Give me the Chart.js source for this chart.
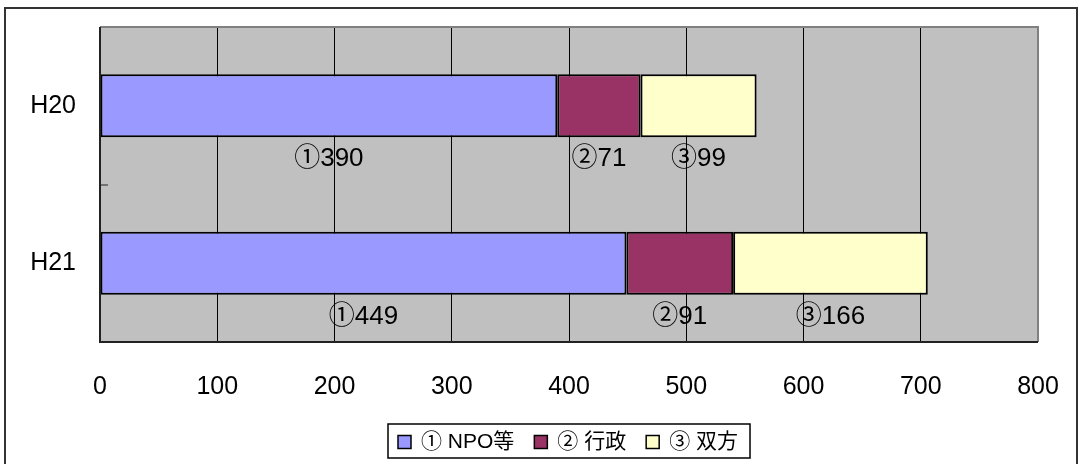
<!DOCTYPE html>
<html>
<head>
<meta charset="utf-8">
<script src="https://cdn.jsdelivr.net/npm/chart.js@4.4.0/dist/chart.umd.min.js"></script>
<style>
  html, body { margin: 0; padding: 0; background: #fff; }
  #wrap { width: 1078px; height: 464px; }
</style>
</head>
<body>
<div id="wrap"><canvas id="myChart"></canvas></div>
<script>
// data
const years = ['H20', 'H21']
const seriesNames = ['① NPO等', '② 行政', '③ 双方']
const labelMarks = ['①', '②', '③']
const npo = [390, 449]
const gyosei = [71, 91]
const soho = [99, 166]
const xTicks = [0, 100, 200, 300, 400, 500, 600, 700, 800]

const colors = ['#9999FF', '#993366', '#FFFFCC']
const fontFam = '"Liberation Sans", "Noto Sans CJK JP", sans-serif'

const excelLook = {
    id: 'excelLook',
    beforeDraw(chart) {
        const { ctx, chartArea: a } = chart
        ctx.save()
        ctx.fillStyle = '#C0C0C0'
        ctx.fillRect(a.left, a.top, a.right - a.left, a.bottom - a.top)
        ctx.restore()
    },
    afterDatasetsDraw(chart) {
        const { ctx, chartArea: a } = chart
        ctx.save()
        // value labels under each segment
        ctx.font = '26px ' + fontFam
        ctx.fillStyle = '#000'
        ctx.textAlign = 'center'
        ctx.textBaseline = 'middle'
        chart.data.datasets.forEach((ds, di) => {
            const meta = chart.getDatasetMeta(di)
            meta.data.forEach((bar, i) => {
                const p = bar.getProps(['x', 'y', 'base', 'height'], true)
                const cx = (p.x + p.base) / 2
                const cy = p.y + p.height / 2 + 22
                ctx.fillText(labelMarks[di] + ds.data[i], cx, cy)
            })
        })

        // plot border (top / right grey)
        ctx.strokeStyle = '#808080'
        ctx.lineWidth = 2
        ctx.beginPath()
        ctx.moveTo(a.left, a.top)
        ctx.lineTo(a.right, a.top)
        ctx.lineTo(a.right, a.bottom)
        ctx.stroke()

        // left and bottom axis lines
        ctx.strokeStyle = '#222'
        ctx.lineWidth = 2
        ctx.beginPath()
        ctx.moveTo(a.left, a.top)
        ctx.lineTo(a.left, a.bottom)
        ctx.lineTo(a.right, a.bottom)
        ctx.stroke()

        // tick between the categories
        const ys = chart.scales.y
        const mid = (ys.getPixelForValue(0) + ys.getPixelForValue(1)) / 2
        ctx.lineWidth = 1
        ctx.beginPath()
        ctx.moveTo(a.left, mid + 0.5)
        ctx.lineTo(a.left + 8, mid + 0.5)
        ctx.stroke()
        ctx.restore()
    },
    afterDraw(chart) {
        const { ctx, chartArea: a } = chart
        ctx.save()
        // outer frame
        ctx.strokeStyle = '#333'
        ctx.lineWidth = 2
        ctx.strokeRect(5, 8, 1072, 520)

        // legend with a box
        ctx.font = '21px ' + fontFam
        ctx.textBaseline = 'middle'
        ctx.textAlign = 'left'
        const sq = 13, gapSq = 10, gapItem = 20
        const widths = seriesNames.map(n => ctx.measureText(n).width)
        let total = 0
        widths.forEach((w, i) => { total += sq + gapSq + w + (i < widths.length - 1 ? gapItem : 0) })
        const cx = (a.left + a.right) / 2
        const boxW = total + 22
        const boxL = Math.round(cx - boxW / 2)
        ctx.fillStyle = '#fff'
        ctx.fillRect(boxL, 424, boxW, 34)
        ctx.strokeStyle = '#000'
        ctx.lineWidth = 1.5
        ctx.strokeRect(boxL, 424, boxW, 34)
        let x = boxL + 10
        const y = 442
        seriesNames.forEach((n, i) => {
            ctx.fillStyle = colors[i]
            ctx.fillRect(x, y - sq / 2, sq, sq)
            ctx.lineWidth = 1.5
            ctx.strokeStyle = '#000'
            ctx.strokeRect(x, y - sq / 2, sq, sq)
            x += sq + gapSq
            ctx.fillStyle = '#000'
            ctx.fillText(n, x, y)
            x += widths[i] + gapItem
        })
        ctx.restore()
    }
}

const ctx = document.getElementById('myChart')
const chart = new Chart(ctx, {
    type: 'bar',
    data: {
        labels: years,
        datasets: [npo, gyosei, soho].map((d, i) => ({
            label: seriesNames[i],
            data: d,
            backgroundColor: colors[i],
            borderColor: '#000',
            borderWidth: 2,
            borderSkipped: false,
            categoryPercentage: 1,
            barPercentage: 0.4
        }))
    },
    options: {
        indexAxis: 'y',
        responsive: true,
        maintainAspectRatio: false,
        animation: false,
        layout: { padding: { left: 0, right: 40, top: 27, bottom: 0 } },
        plugins: {
            legend: { display: false },
            tooltip: { enabled: false }
        },
        scales: {
            x: {
                stacked: true,
                min: 0,
                max: 800,
                afterBuildTicks: s => { s.ticks = xTicks.map(v => ({ value: v })) },
                afterFit: s => {
                    s.height = 122
                    s.paddingLeft = 0
                    s.paddingRight = 0
                },
                grid: { color: '#000', lineWidth: 1, drawTicks: false },
                border: { display: false },
                ticks: {
                    padding: 30,
                    color: '#000',
                    font: { family: fontFam, size: 25 }
                }
            },
            y: {
                stacked: true,
                afterFit: s => {
                    s.width = 100
                    s.paddingTop = 0
                    s.paddingBottom = 0
                },
                grid: { display: false, drawTicks: false },
                border: { display: false },
                ticks: {
                    padding: 24,
                    color: '#000',
                    font: { family: fontFam, size: 25 }
                }
            }
        }
    },
    plugins: [excelLook]
})
</script>
</body>
</html>
